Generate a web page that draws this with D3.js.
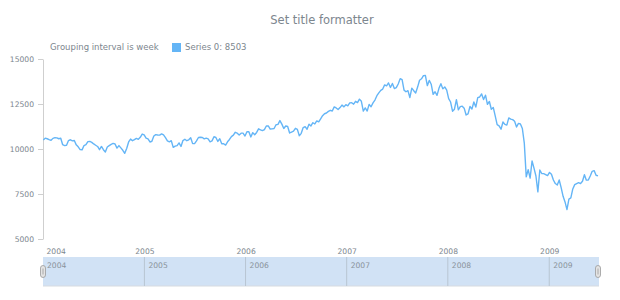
<!DOCTYPE html>
<html>
<head>
<meta charset="utf-8">
<script src="https://cdn.jsdelivr.net/npm/d3@7"></script>
<style>
  body { margin: 0; background: #fff; }
  svg { font-family: "DejaVu Sans", Verdana, sans-serif; }
</style>
</head>
<body>
<div class="canvas"></div>
<script>
// weekly closes (Fridays)
const dow2004 = [10500, 10600, 10570, 10520, 10480, 10590, 10630, 10620, 10570, 10600,
  10240, 10190, 10210, 10470, 10515, 10450, 10470, 10230, 10120, 9970,
  9950, 10190, 10240, 10410, 10420, 10370, 10280, 10210, 10140, 9960,
  10140, 9960, 9830, 10110, 10190, 10260, 10310, 10280, 10050, 10190,
  10060, 9930, 9760, 10030, 10390, 10550, 10460, 10520, 10590, 10540,
  10650, 10830, 10780];
const dow2005 = [10600, 10560, 10390, 10430, 10720, 10800, 10780, 10770, 10840, 10780,
  10630, 10450, 10400, 10460, 10090, 10160, 10190, 10340, 10140, 10470,
  10540, 10460, 10510, 10620, 10300, 10300, 10450, 10640, 10650, 10640,
  10560, 10600, 10560, 10400, 10450, 10680, 10640, 10420, 10570, 10290,
  10290, 10220, 10400, 10530, 10690, 10770, 10930, 10880, 10780, 10880,
  10880, 10720];
const dow2006 = [10960, 10960, 10670, 10910, 10790, 10920, 11120, 11060, 11020, 11080,
  11280, 11280, 11110, 11120, 11140, 11350, 11370, 11580, 11380, 11140,
  11280, 11250, 10890, 10940, 10990, 11150, 11090, 10740, 10870, 11190,
  11240, 11100, 11380, 11280, 11460, 11390, 11560, 11510, 11680, 11850,
  11960, 12000, 12090, 12150, 12110, 12340, 12280, 12190, 12300, 12440,
  12340, 12460];
const dow2007 = [12400, 12560, 12570, 12490, 12650, 12580, 12770, 12650, 12110, 12280,
  12110, 12480, 12350, 12560, 12720, 12960, 13120, 13260, 13330, 13560,
  13510, 13670, 13420, 13640, 13360, 13410, 13610, 13910, 13850, 13270,
  13180, 13240, 12860, 13380, 13240, 13110, 13440, 13820, 13900, 14070,
  14090, 13520, 13810, 13600, 13040, 13180, 12980, 13370, 13630, 13340,
  13450, 13270];
const dow2008 = [12800, 12610, 12100, 12210, 12740, 12180, 12350, 12380, 12270, 11890,
  11950, 12360, 12220, 12610, 12330, 12850, 12890, 13060, 12750, 12990,
  12480, 12640, 12210, 12310, 11840, 11350, 11290, 11100, 11500, 11370,
  11330, 11730, 11660, 11630, 11540, 11220, 11420, 11390, 11140, 10330,
  8450, 8850, 8380, 9330, 8940, 8500, 7620, 8830, 8640, 8630,
  8580, 8520];
const dow2009 = [8700, 8600, 8280, 8080, 8000, 8280, 7850, 7370, 7060, 6630,
  7220, 7280, 7780, 8020, 8080, 8130, 8080, 8210, 8570, 8270,
  8280, 8500, 8760, 8800, 8540, 8503];

const firstWeek = new Date(2004, 0, 2);
const yTicks = [5000, 7500, 10000, 12500, 15000];
const years = [2004, 2005, 2006, 2007, 2008, 2009];

const values = [].concat(dow2004, dow2005, dow2006, dow2007, dow2008, dow2009);
const data = values.map((v, i) => ({ date: d3.timeFriday.offset(firstWeek, i), value: v }));

const W = 620, H = 300;
const plotLeft = 43, plotRight = 598, plotTop = 59, plotBottom = 239;
const textColor = "#7c868e";

const svg = d3.select(".canvas")
  .append("svg")
    .attr("width", W)
    .attr("height", H);

const x = d3.scaleTime()
  .domain([new Date(2004, 0, 1), data[data.length - 1].date])
  .range([plotLeft, plotRight]);

const y = d3.scaleLinear()
  .domain([5000, 15000])
  .range([plotBottom, plotTop]);

// TITLE
svg.append("text")
  .attr("x", 322)
  .attr("y", 24)
  .attr("text-anchor", "middle")
  .attr("fill", textColor)
  .style("font-size", "11.5px")
  .text("Set title formatter");

// LEGEND
svg.append("text")
  .attr("x", 50)
  .attr("y", 50)
  .attr("fill", textColor)
  .style("font-size", "8.5px")
  .text("Grouping interval is week");

svg.append("rect")
  .attr("x", 172).attr("y", 43)
  .attr("width", 9).attr("height", 9)
  .attr("fill", "#64b5f6");

svg.append("text")
  .attr("x", 185)
  .attr("y", 50)
  .attr("fill", textColor)
  .style("font-size", "8.5px")
  .text("Series 0: " + values[values.length - 1]);

// Y AXIS
const yAxis = svg.append("g")
  .attr("transform", `translate(${plotLeft},0)`)
  .call(d3.axisLeft(y).tickValues(yTicks).tickFormat(d3.format("d"))
    .tickSize(5).tickPadding(4).tickSizeOuter(0));

yAxis.select(".domain").attr("stroke", "#cfcfcf");
yAxis.selectAll(".tick line").attr("stroke", "#cfcfcf");
yAxis.selectAll(".tick text")
  .attr("fill", textColor)
  .style("font-size", "7.6px")
  .style("font-family", "DejaVu Sans, sans-serif");

// X AXIS (labels only)
const xAxis = svg.append("g")
  .attr("transform", `translate(0,${plotBottom})`)
  .call(d3.axisBottom(x).ticks(d3.timeYear).tickFormat(d3.timeFormat("%Y")).tickSize(0).tickPadding(10));

xAxis.select(".domain").remove();
xAxis.selectAll(".tick text")
  .attr("fill", textColor)
  .style("font-size", "7.6px")
  .style("font-family", "DejaVu Sans, sans-serif")
  .attr("text-anchor", (d, i) => i === 0 ? "start" : "middle")
  .attr("dx", (d, i) => i === 0 ? 3 : 0);

// LINE
const line = d3.line()
  .x(d => x(d.date))
  .y(d => y(d.value));

svg.append("path")
  .datum(data)
  .attr("fill", "none")
  .attr("stroke", "#64b5f6")
  .attr("stroke-width", 1.4)
  .attr("stroke-linejoin", "round")
  .attr("d", line);

// SCROLLER
const sTop = 257, sH = 29, sLeft = 43, sRight = 599;
const scroller = svg.append("g");

scroller.append("rect")
  .attr("x", sLeft).attr("y", sTop)
  .attr("width", sRight - sLeft).attr("height", sH)
  .attr("fill", "#d1e2f5");

scroller.append("line")
  .attr("x1", sLeft).attr("x2", sRight)
  .attr("y1", sTop + sH).attr("y2", sTop + sH)
  .attr("stroke", "#d6dbe0");

scroller.selectAll(".divider")
  .data(years.slice(1))
  .enter()
  .append("line")
    .attr("x1", d => x(new Date(d, 0, 1)))
    .attr("x2", d => x(new Date(d, 0, 1)))
    .attr("y1", sTop).attr("y2", sTop + sH)
    .attr("stroke", "#b8c5d2");

scroller.selectAll(".slabel")
  .data(years)
  .enter()
  .append("text")
    .attr("x", d => Math.max(x(new Date(d, 0, 1)), sLeft) + 4)
    .attr("y", sTop + 10.5)
    .attr("fill", "#8a939b")
    .style("font-size", "7.6px")
    .text(d => d);

// HANDLES
[sLeft, sRight - 1].forEach(hx => {
  scroller.append("rect")
    .attr("x", hx - 2.5).attr("y", 265.5)
    .attr("width", 5).attr("height", 12)
    .attr("rx", 2.5)
    .attr("fill", "#e4e4e4")
    .attr("stroke", "#9a9a9a")
    .attr("stroke-width", 0.8);
  scroller.append("line")
    .attr("x1", hx).attr("x2", hx)
    .attr("y1", 268.5).attr("y2", 274.5)
    .attr("stroke", "#9a9a9a")
    .attr("stroke-width", 0.8);
});
</script>
</body>
</html>
